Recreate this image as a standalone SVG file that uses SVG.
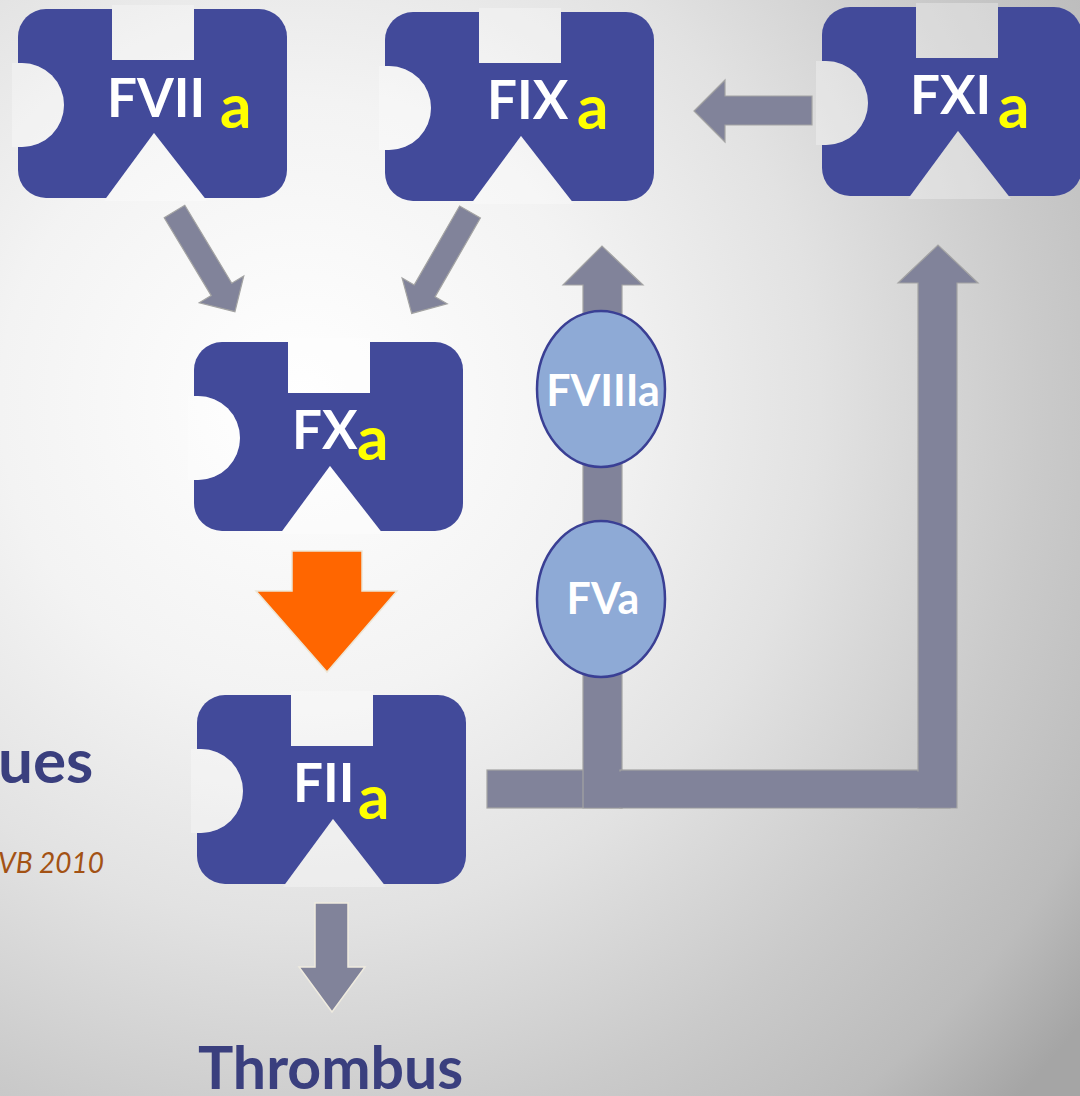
<svg xmlns="http://www.w3.org/2000/svg" width="1080" height="1096" viewBox="0 0 1080 1096">
  <defs>
    <radialGradient id="bg" gradientUnits="userSpaceOnUse" cx="300" cy="400" r="1000">
      <stop offset="0" stop-color="#ffffff"/>
      <stop offset="0.3" stop-color="#f3f3f3"/>
      <stop offset="0.52" stop-color="#e2e2e2"/>
      <stop offset="0.74" stop-color="#cacaca"/>
      <stop offset="0.89" stop-color="#bcbcbc"/>
      <stop offset="1" stop-color="#a5a5a5"/>
    </radialGradient>
    <!-- puzzle-piece cut-outs: top slot, left socket, bottom wedge -->
    <g id="cuts">
      <rect x="94" y="-4" width="82" height="55"/>
      <path d="M-6,54 L4,54 A42,42 0 0 1 4,138 L-6,138 Z"/>
      <polygon points="136,124 86,192 189,192"/>
    </g>
    <mask id="piece" maskUnits="userSpaceOnUse" x="-40" y="-40" width="360" height="280">
      <rect x="-40" y="-40" width="360" height="280" fill="#fff"/>
      <use href="#cuts" fill="#000"/>
    </mask>
    <style>
      .body { fill: #424a9a; }
      .hole { fill: #ffffff; fill-opacity: 0.3; }
      .name { font-family: Lato, "Open Sans", sans-serif; font-weight: 700; font-size: 53px; fill: #ffffff; }
      .sub { font-family: Lato, "Open Sans", sans-serif; font-weight: 700; font-size: 62px; fill: #ffff00; }
      .cof { fill: #8eaad6; stroke: #3a3f94; stroke-width: 2.5; }
      .coftxt { font-family: Lato, "Open Sans", sans-serif; font-weight: 700; font-size: 43px; fill: #ffffff; text-anchor: middle; }
      .gray { fill: #81839a; stroke: #a3a3a3; stroke-width: 1.2; }
      .title { font-family: Lato, "Open Sans", sans-serif; font-weight: 700; fill: #3a3f7e; }
    </style>
  </defs>

  <rect width="1080" height="1096" fill="url(#bg)"/>

  <!-- left margin text fragments -->
  <text class="title" x="-2" y="783" font-size="62">ues</text>
  <text x="-2" y="873" font-family="Lato, 'Open Sans', sans-serif" font-style="italic" font-size="28" fill="#a35214">VB 2010</text>

  <!-- connectors -->
  <g id="connectors">
    <!-- FVIIa -> FXa -->
    <polygon class="gray" transform="translate(174.5,211.5) rotate(58.9)" points="0,-12 91,-12 91,-26 117,0 91,26 91,12 0,12"/>
    <!-- FIXa -> FXa -->
    <polygon class="gray" transform="translate(470,212) rotate(119.9)" points="0,-12 91,-12 91,-26 117,0 91,26 91,12 0,12"/>
    <!-- FXIa -> FIXa -->
    <polygon class="gray" points="812,96 725,96 725,80 694,111 725,142 725,125 812,125"/>
    <!-- FXa -> FIIa -->
    <polygon fill="#ff6600" stroke="#ece6d6" stroke-width="1.5" points="292,551 362,551 362,591 397,591 327,672 256,591 292,591"/>
    <!-- FIIa -> Thrombus -->
    <polygon fill="#81839a" stroke="#efebdf" stroke-width="1.5" points="315,903 348,903 348,967 365,967 332,1012 299,967 315,967"/>
    <!-- FIIa feedback: bar and two upward arrows -->
    <rect class="gray" x="487" y="770" width="135" height="38"/>
    <polygon class="gray" points="583,808 583,285 563,285 602,246 643,285 622,285 622,808"/>
    <rect class="gray" x="620" y="770" width="330" height="38"/>
    <polygon class="gray" points="918,808 918,283 898,283 938,245 978,283 957,283 957,808"/>
    <rect x="621" y="771.5" width="335" height="36" fill="#81839a"/>
    <rect x="584" y="771.5" width="37" height="36" fill="#81839a"/>
  </g>

  <!-- cofactors on the feedback arrow -->
  <g id="FVIIIa">
    <ellipse class="cof" cx="601" cy="389" rx="64" ry="78"/>
    <text class="coftxt" x="603" y="406">FVIIIa</text>
  </g>
  <g id="FVa">
    <ellipse class="cof" cx="601" cy="599" rx="64" ry="78"/>
    <text class="coftxt" x="603" y="614">FVa</text>
  </g>

  <!-- factor pieces -->
  <g id="FVIIa" transform="translate(18,9)">
    <rect class="body" width="269" height="189" rx="28" mask="url(#piece)"/>
    <use href="#cuts" class="hole"/>
    <text class="name" x="89" y="108">FVII</text>
    <text class="sub" x="202" y="119">a</text>
  </g>
  <g id="FIXa" transform="translate(385,12)">
    <rect class="body" width="269" height="189" rx="28" mask="url(#piece)"/>
    <use href="#cuts" class="hole"/>
    <text class="name" x="102" y="107">FIX</text>
    <text class="sub" x="192" y="117">a</text>
  </g>
  <g id="FXIa" transform="translate(822,7)">
    <rect class="body" width="260" height="189" rx="28" mask="url(#piece)"/>
    <use href="#cuts" class="hole"/>
    <text class="name" x="88" y="107">FXI</text>
    <text class="sub" x="176" y="121">a</text>
  </g>
  <g id="FXa" transform="translate(194,342)">
    <rect class="body" width="269" height="189" rx="28" mask="url(#piece)"/>
    <use href="#cuts" class="hole"/>
    <text class="name" x="98" y="107">FX</text>
    <text class="sub" x="163" y="118">a</text>
  </g>
  <g id="FIIa" transform="translate(197,695)">
    <rect class="body" width="269" height="189" rx="28" mask="url(#piece)"/>
    <use href="#cuts" class="hole"/>
    <text class="name" x="96" y="107">FII</text>
    <text class="sub" x="161" y="124">a</text>
  </g>

  <text id="Thrombus" class="title" x="198" y="1089" font-size="59">Thrombus</text>
</svg>
